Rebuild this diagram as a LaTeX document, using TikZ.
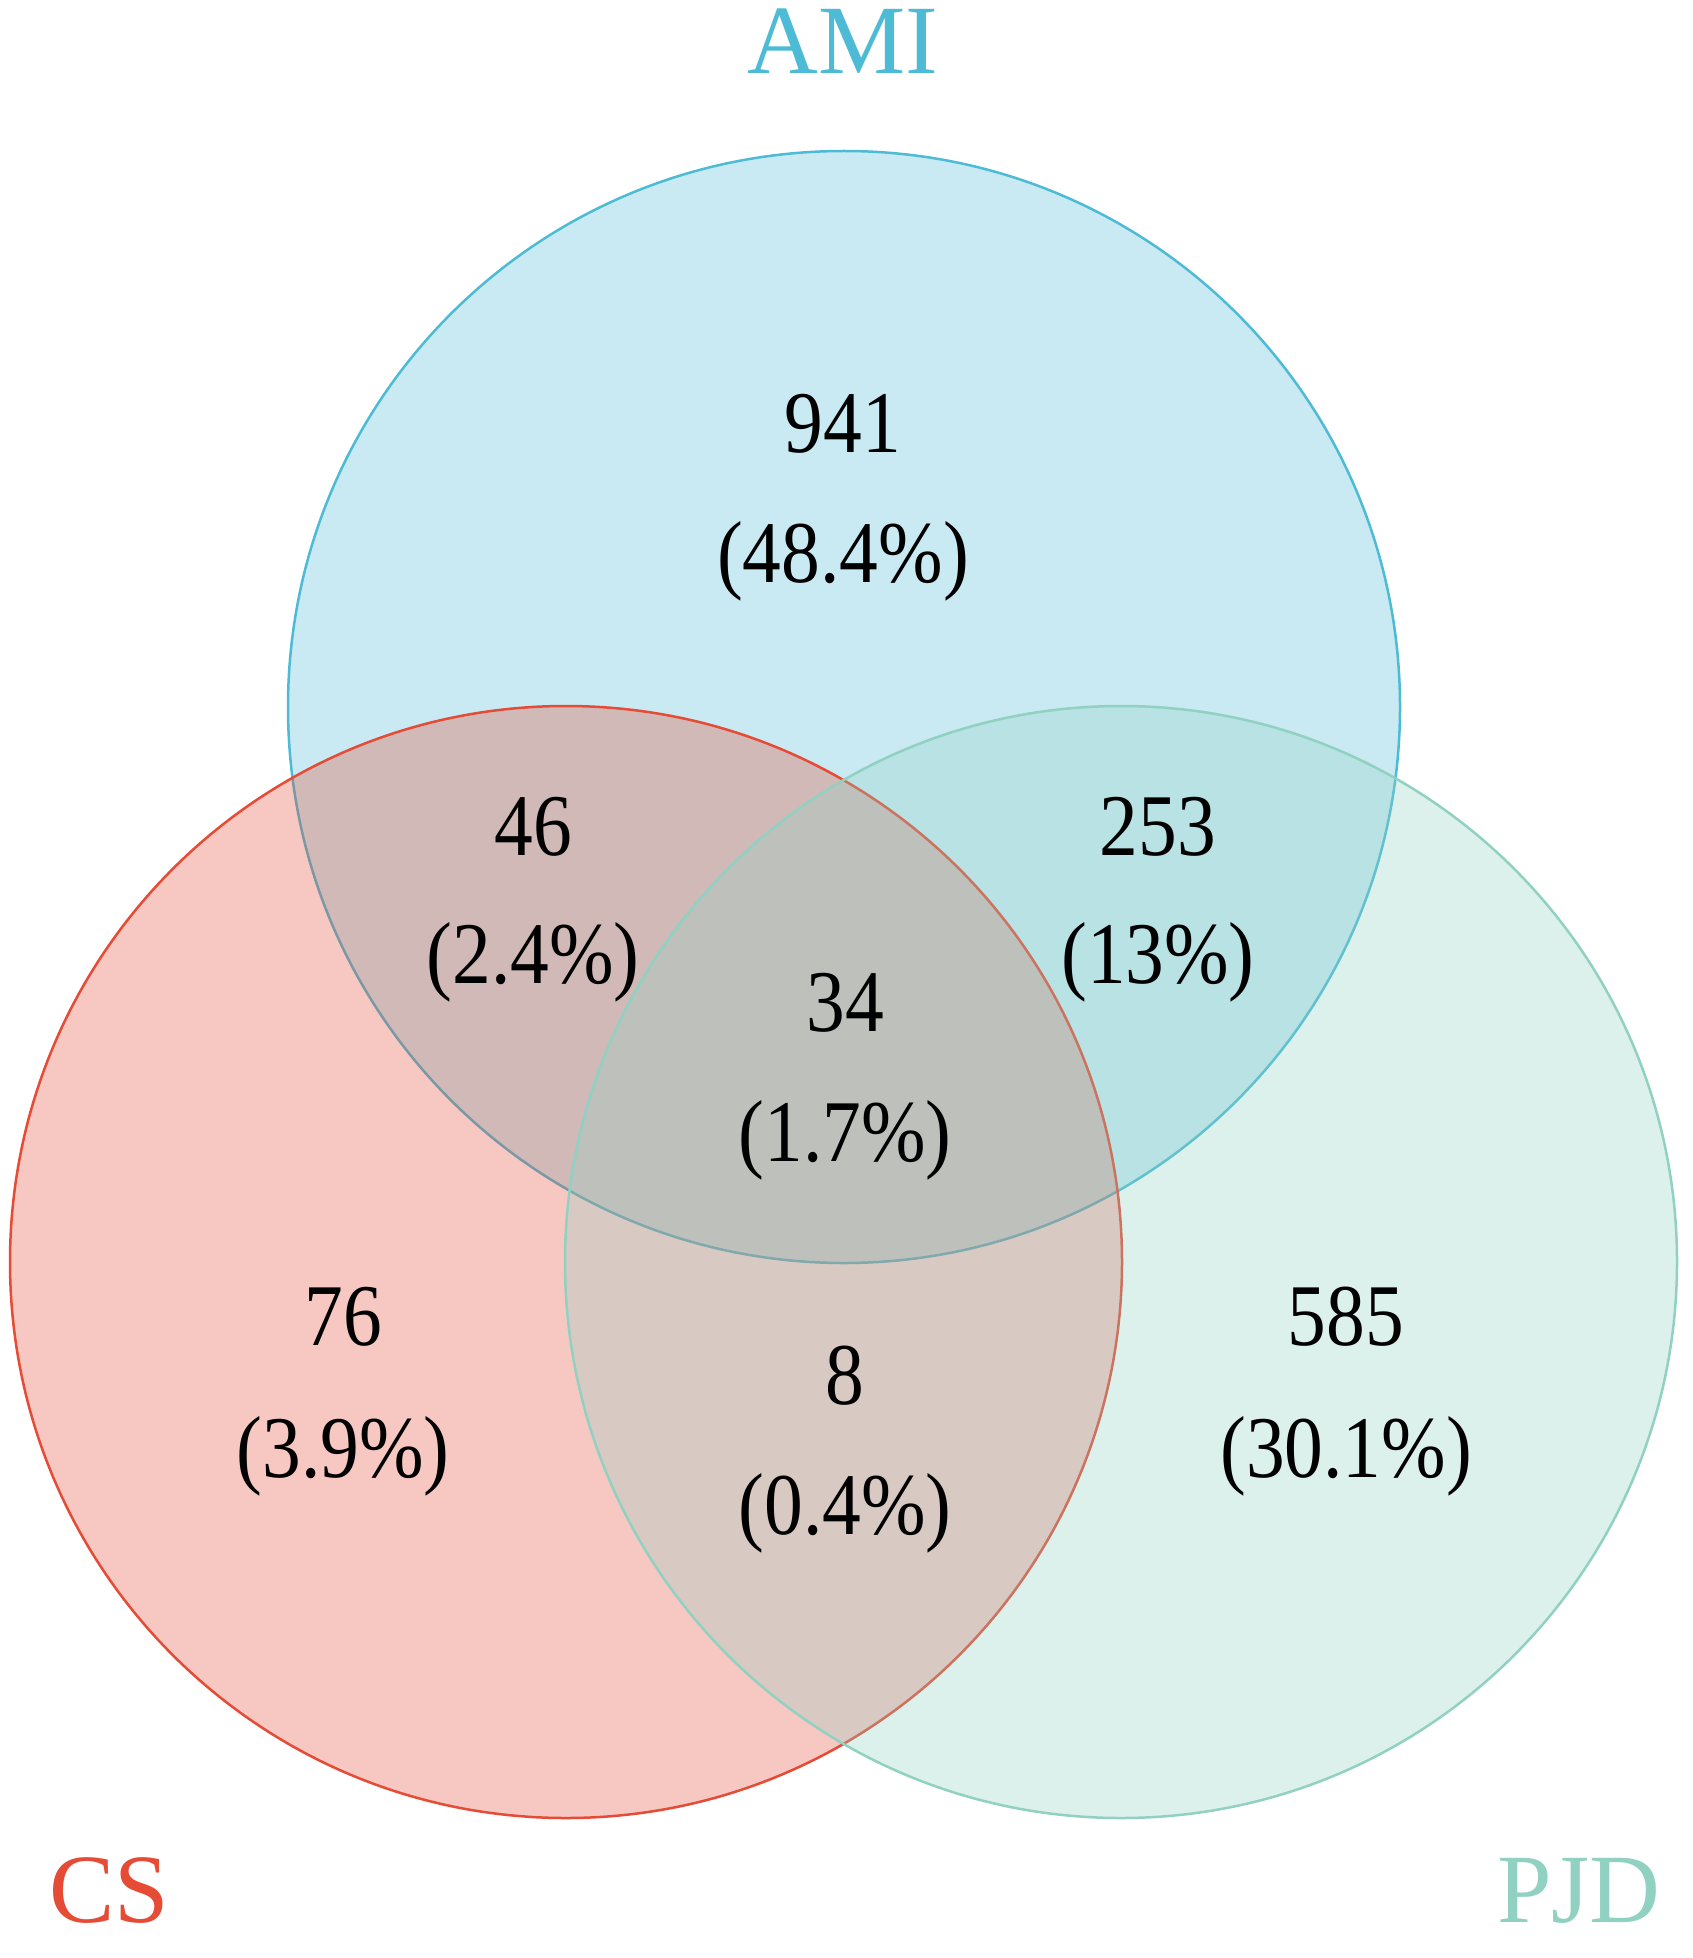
\documentclass[tikz,border=0pt]{standalone}
\usepackage{fontspec}
\setmainfont{Liberation Serif}
\newfontfamily\numfont{Liberation Serif}[FakeStretch=0.88]
\definecolor{amiC}{HTML}{4DBBD5}
\definecolor{csC}{HTML}{E64B35}
\definecolor{pjdC}{HTML}{91D1C2}
\begin{document}
\begin{tikzpicture}[x=1pt,y=-1pt,
  num/.style={anchor=base,font=\numfont\fontsize{88}{88}\selectfont,text=black,inner sep=0pt},
  setlab/.style={anchor=base,font=\fontsize{98}{98}\selectfont,inner sep=0pt},
  ring/.style={line width=2.5pt,fill opacity=0.3}]
\useasboundingbox (0,0) rectangle (1692,1958);
\fill[white] (0,0) rectangle (1692,1958);
\coordinate (cA) at (844,707);
\coordinate (cC) at (566,1262);
\coordinate (cP) at (1121,1262);
\draw[ring,draw=amiC,fill=amiC] (cA) circle[radius=556];
\draw[ring,draw=csC,fill=csC] (cC) circle[radius=556];
\draw[ring,draw=pjdC,fill=pjdC] (cP) circle[radius=556];
\node[setlab,text=amiC] (lA) at (843,74) {AMI};
\node[setlab,text=csC] (lC) at (109,1922) {CS};
\node[setlab,text=pjdC] (lP) at (1579,1922) {PJD};
\node[num] (n1) at (843,452) {941};
\node[num] (p1) at (843,582) {(48.4\%)};
\node[num] (n2) at (533,855) {46};
\node[num] (p2) at (533,983) {(2.4\%)};
\node[num] (n3) at (1158,855) {253};
\node[num] (p3) at (1158,983) {(13\%)};
\node[num] (n4) at (845,1031) {34};
\node[num] (p4) at (845,1161) {(1.7\%)};
\node[num] (n5) at (343,1345) {76};
\node[num] (p5) at (343,1477) {(3.9\%)};
\node[num] (n6) at (845,1404) {8};
\node[num] (p6) at (845,1534) {(0.4\%)};
\node[num] (n7) at (1346,1345) {585};
\node[num] (p7) at (1346,1477) {(30.1\%)};
\end{tikzpicture}
\end{document}
